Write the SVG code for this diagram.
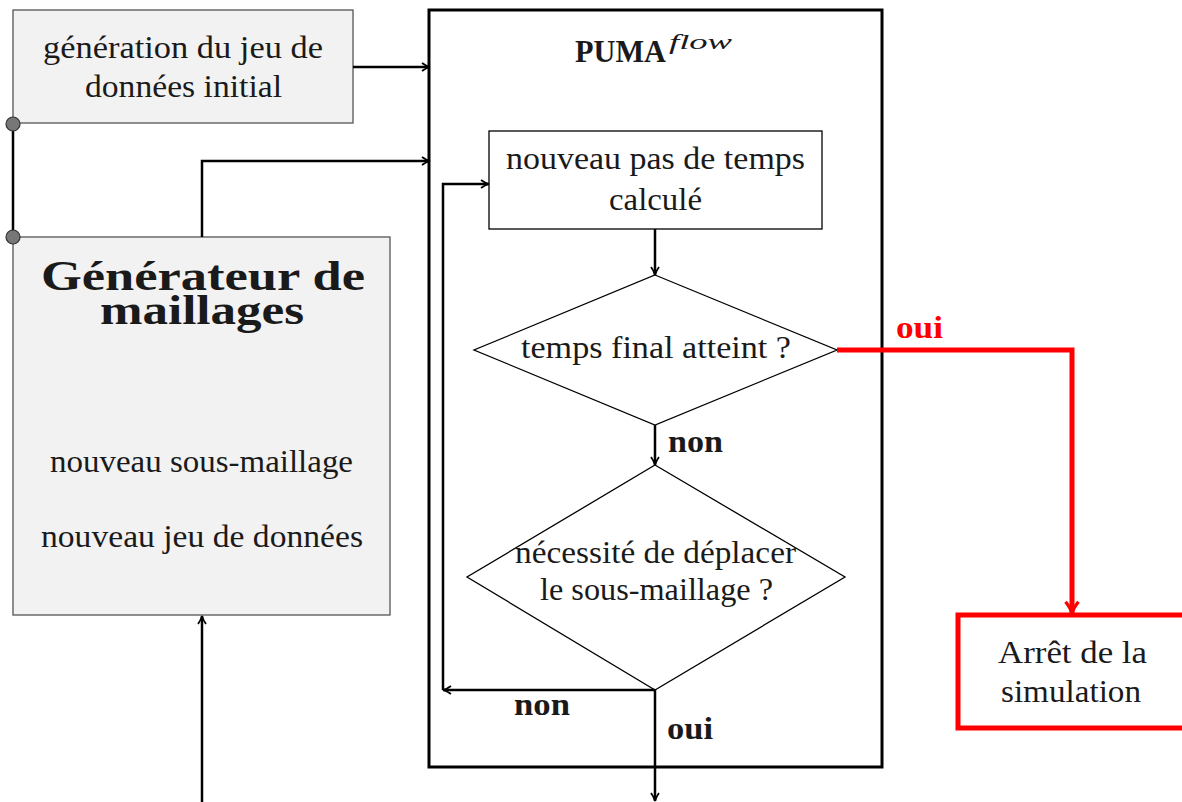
<svg xmlns="http://www.w3.org/2000/svg" width="1182" height="802" viewBox="0 0 1182 802">
<defs>
<style>
text{font-family:"Liberation Serif","DejaVu Serif",serif;fill:#1a1a1a;text-anchor:middle}
.t{font-size:31px}
.b{font-weight:bold;font-size:31px}
.h{font-weight:bold;font-size:42px}
.gray{fill:#f2f2f2;stroke:#555;stroke-width:1.3}
.ln{fill:none;stroke:#000;stroke-width:2.5}
.thin{fill:#fff;stroke:#000;stroke-width:1.3}
.red{fill:none;stroke:#ff0000;stroke-width:5}
</style>
<marker id="ah" viewBox="0 0 10 10" refX="9" refY="5" markerWidth="10" markerHeight="10" markerUnits="userSpaceOnUse" orient="auto">
<path d="M1,1 Q5,4 9,5 Q5,6 1,9" fill="none" stroke="#000" stroke-width="1.8"/>
</marker>
<marker id="ahr" viewBox="0 0 10 10" refX="8" refY="5" markerWidth="16" markerHeight="16" markerUnits="userSpaceOnUse" orient="auto">
<path d="M1,1 Q5,4 8,5 Q5,6 1,9" fill="none" stroke="#ff0000" stroke-width="2"/>
</marker>
</defs>
<rect width="1182" height="802" fill="#fff"/>
<g id="puma">
<rect x="429" y="10" width="453" height="757" fill="none" stroke="#000" stroke-width="3"/>
<text x="620.5" y="62" style="font-size:32px;font-weight:bold" textLength="91" lengthAdjust="spacingAndGlyphs">PUMA</text>
<text x="669" y="49" style="font-size:21px;font-style:italic;text-anchor:start" textLength="63" lengthAdjust="spacingAndGlyphs">flow</text>
</g>
<g id="gen-init">
<rect class="gray" x="13" y="10" width="340" height="113"/>
<text class="t" x="183" y="58" textLength="280" lengthAdjust="spacingAndGlyphs">génération du jeu de</text>
<text class="t" x="183.5" y="97" textLength="197" lengthAdjust="spacingAndGlyphs">données initial</text>
</g>
<g id="generateur">
<rect class="gray" x="13" y="237" width="377" height="378"/>
<text class="h" x="203" y="290" textLength="324" lengthAdjust="spacingAndGlyphs">Générateur de</text>
<text class="h" x="202" y="324" textLength="204" lengthAdjust="spacingAndGlyphs">maillages</text>
<text class="t" x="201.5" y="472" textLength="303" lengthAdjust="spacingAndGlyphs">nouveau sous-maillage</text>
<text class="t" x="202" y="547" textLength="322" lengthAdjust="spacingAndGlyphs">nouveau jeu de données</text>
</g>
<g id="pas-temps">
<rect class="thin" x="489" y="131" width="333" height="98"/>
<text class="t" x="655.5" y="169" textLength="299" lengthAdjust="spacingAndGlyphs">nouveau pas de temps</text>
<text class="t" x="655.5" y="210" textLength="93" lengthAdjust="spacingAndGlyphs">calculé</text>
</g>
<g id="temps-final">
<polygon class="thin" points="655,275 837,350 655,425 474,350"/>
<text class="t" x="656" y="358" textLength="270" lengthAdjust="spacingAndGlyphs">temps final atteint ?</text>
</g>
<g id="necessite">
<polygon class="thin" points="655,465 845,577 655,690 467,577"/>
<text class="t" x="655.5" y="563" textLength="281" lengthAdjust="spacingAndGlyphs">nécessité de déplacer</text>
<text class="t" x="656.5" y="600" textLength="233" lengthAdjust="spacingAndGlyphs">le sous-maillage ?</text>
</g>
<g id="arret">
<rect x="958" y="615" width="230" height="113" fill="#fff" stroke="#ff0000" stroke-width="5"/>
<text class="t" x="1072.5" y="663" textLength="149" lengthAdjust="spacingAndGlyphs">Arrêt de la</text>
<text class="t" x="1071" y="702" textLength="140" lengthAdjust="spacingAndGlyphs">simulation</text>
</g>
<g id="connectors">
<path class="ln" d="M13,124 V237"/>
<circle cx="13" cy="124" r="7" fill="#777" stroke="#333" stroke-width="1.2"/>
<circle cx="13" cy="237" r="7" fill="#777" stroke="#333" stroke-width="1.2"/>
<path class="ln" d="M353,67 H430" marker-end="url(#ah)"/>
<path class="ln" d="M202,237 V161 H430" marker-end="url(#ah)"/>
<path class="ln" d="M202,802 V616" marker-end="url(#ah)"/>
<path class="ln" d="M655,229 V275" marker-end="url(#ah)"/>
<path class="ln" d="M655,425 V465" marker-end="url(#ah)"/>
<path class="ln" d="M655,690 H443" marker-end="url(#ah)"/>
<path class="ln" d="M443,690 V184 H489" marker-end="url(#ah)"/>
<path class="ln" d="M655,690 V801" marker-end="url(#ah)"/>
<path class="red" d="M837,350 H1072 V613" marker-end="url(#ahr)"/>
<text class="b" x="695.5" y="452" textLength="55" lengthAdjust="spacingAndGlyphs">non</text>
<text class="b" x="542" y="715" textLength="56" lengthAdjust="spacingAndGlyphs">non</text>
<text class="b" x="690" y="739" textLength="46" lengthAdjust="spacingAndGlyphs">oui</text>
<text class="b" x="919.5" y="338" textLength="47" lengthAdjust="spacingAndGlyphs" style="fill:#ff0000">oui</text>
</g>
</svg>
